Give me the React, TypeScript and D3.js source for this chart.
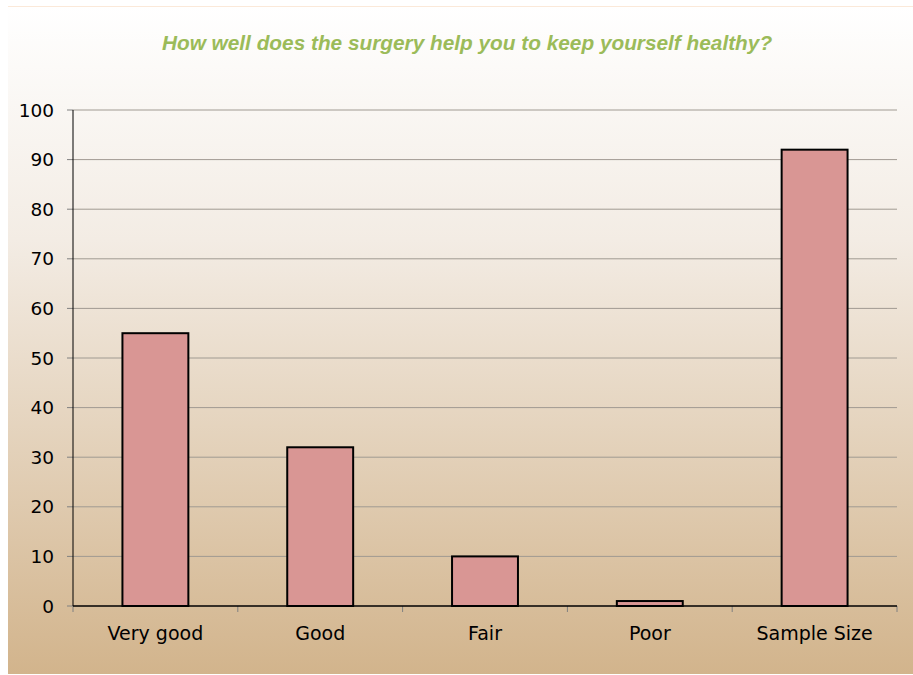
import React from "react";
import * as d3 from "d3";

const categories = ["Very good", "Good", "Fair", "Poor", "Sample Size"];
const values = [55, 32, 10, 1, 92];
const yTicks = [0, 10, 20, 30, 40, 50, 60, 70, 80, 90, 100];
const title = "How well does the surgery help you to keep yourself healthy?";

const W = 913;
const H = 675;
const margin = { left: 73, right: 16, top: 110, bottom: 69 };

export default function App() {
  const x = d3
    .scaleBand<string>()
    .domain(categories)
    .range([margin.left, W - margin.right])
    .paddingInner(0.6)
    .paddingOuter(0.3);
  const y = d3.scaleLinear().domain([0, 100]).range([H - margin.bottom, margin.top]);
  const x0 = margin.left;
  const x1 = W - margin.right;
  const tickXs = d3.range(categories.length + 1).map((i) => x0 + i * ((x1 - x0) / categories.length));
  const font = "'DejaVu Sans', Verdana, sans-serif";

  return (
    <svg
      width={W}
      height={H}
      style={{ position: "absolute", left: 0, top: 0, display: "block" }}
    >
      <defs>
        <linearGradient id="bg" x1="0" y1="0" x2="0" y2="1">
          <stop offset="0%" stopColor="#FFFFFF" />
          <stop offset="35%" stopColor="#F3ECE4" />
          <stop offset="100%" stopColor="#D2B48C" />
        </linearGradient>
      </defs>
      <rect x={0} y={0} width={W} height={H} fill="#FFFFFF" />
      <rect x={8} y={6} width={W - 8} height={668} fill="url(#bg)" />
      <line x1={8} x2={W} y1={6.5} y2={6.5} stroke="#FBE9D9" strokeWidth={1} />
      <text
        x={467}
        y={50}
        textAnchor="middle"
        fill="#9BBB59"
        fontFamily="'Liberation Sans', Arial, sans-serif"
        fontWeight="bold"
        fontStyle="italic"
        fontSize={20.8}
      >
        {title}
      </text>
      {yTicks.map((t) => (
        <g key={t}>
          {t > 0 && (
            <line x1={x0} x2={x1} y1={y(t)} y2={y(t)} stroke="#A09A92" strokeWidth={1} />
          )}
          <line x1={x0 - 6} x2={x0} y1={y(t)} y2={y(t)} stroke="#808080" strokeWidth={1} />
          <text
            x={x0 - 19}
            y={y(t)}
            dy="0.36em"
            textAnchor="end"
            fontFamily={font}
            fontSize={18.5}
            fill="#000"
          >
            {t}
          </text>
        </g>
      ))}
      <line x1={x0} x2={x0} y1={y(100)} y2={y(0)} stroke="#000" strokeWidth={1} />
      {tickXs.map((tx, i) => (
        <line key={i} x1={tx} x2={tx} y1={y(0)} y2={y(0) + 6} stroke="#808080" strokeWidth={1} />
      ))}
      {categories.map((c, i) => (
        <rect
          key={c}
          x={x(c)!}
          y={y(values[i])}
          width={x.bandwidth()}
          height={y(0) - y(values[i])}
          fill="#D99694"
          stroke="#000"
          strokeWidth={2}
        />
      ))}
      <line x1={x0} x2={x1} y1={y(0)} y2={y(0)} stroke="#000" strokeWidth={1.5} />
      {categories.map((c) => (
        <text
          key={c}
          x={x(c)! + x.bandwidth() / 2}
          y={640}
          textAnchor="middle"
          fontFamily={font}
          fontSize={19}
          fill="#000"
        >
          {c}
        </text>
      ))}
    </svg>
  );
}
